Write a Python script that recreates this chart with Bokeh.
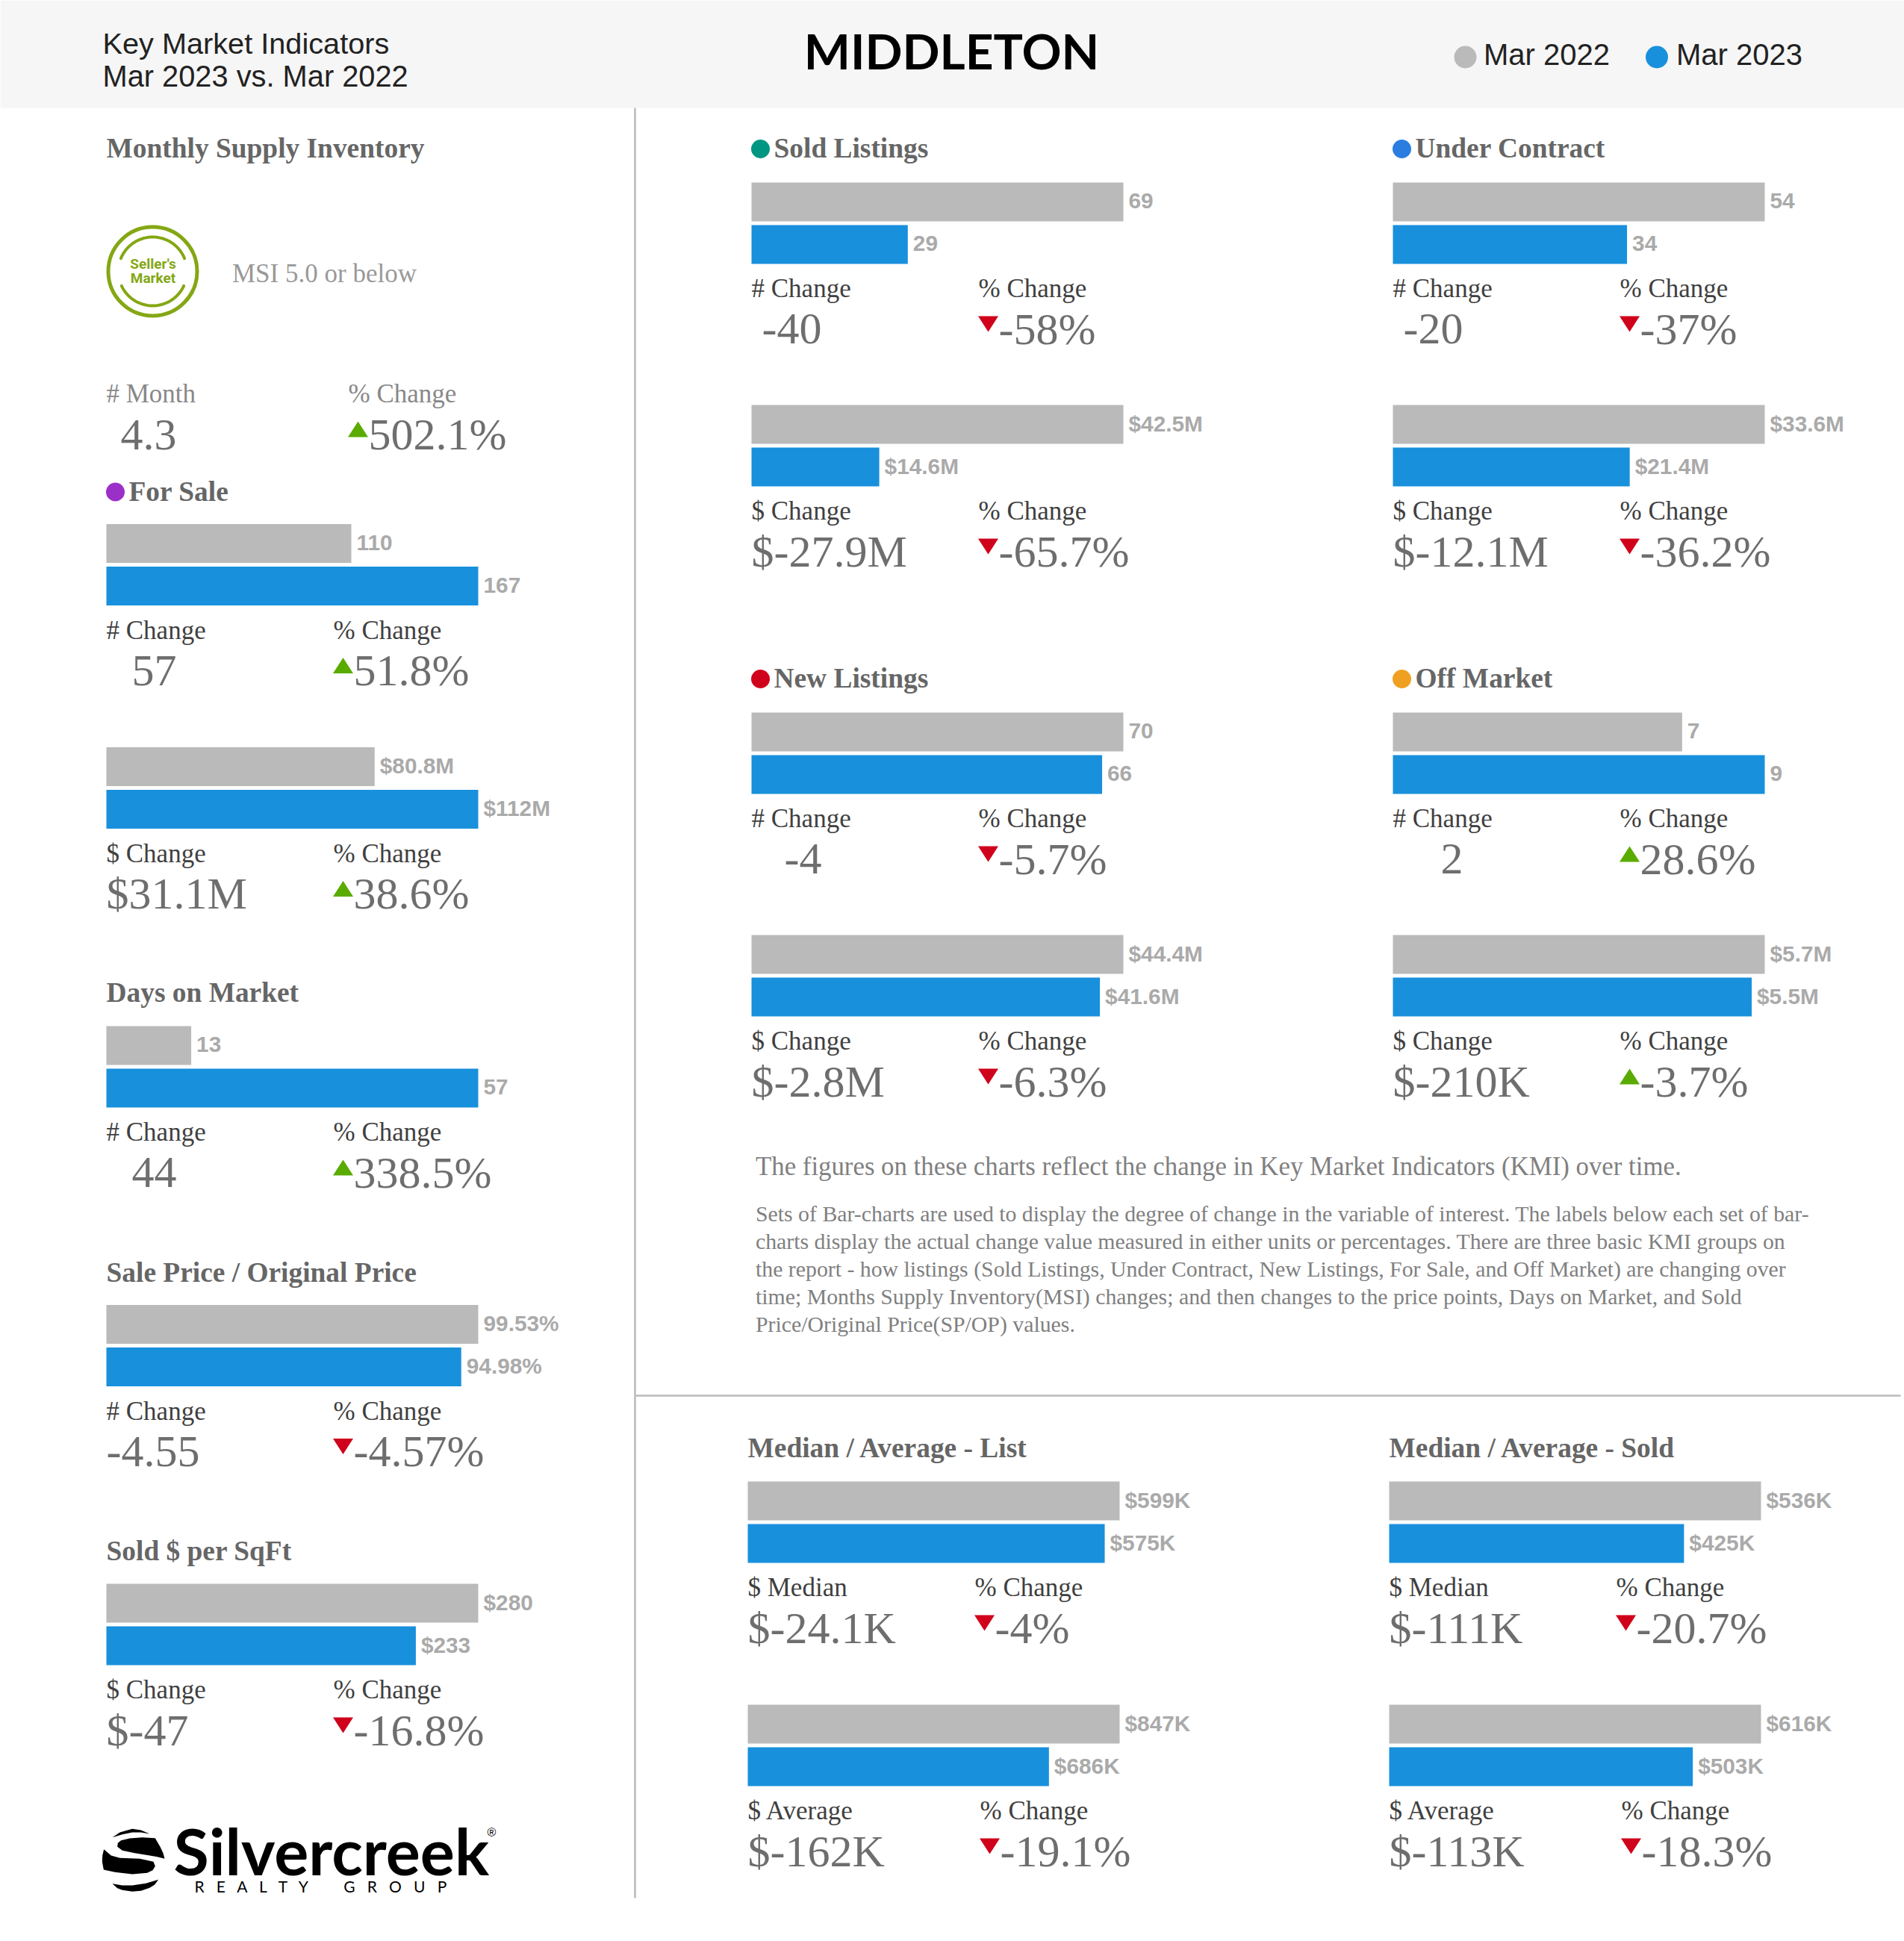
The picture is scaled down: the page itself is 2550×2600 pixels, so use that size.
import numpy as np
from bokeh.plotting import figure
from bokeh.models import Range1d
from bokeh.core.properties import value
from bokeh.embed import file_html
from bokeh.resources import INLINE

# ---------- data ----------
legend_labels = ["Mar 2022", "Mar 2023"]

sold_count = [69, 29];            sold_count_lbl = ["69", "29"]
sold_dollar = [42.5, 14.6];       sold_dollar_lbl = ["$42.5M", "$14.6M"]
contract_count = [54, 34];        contract_count_lbl = ["54", "34"]
contract_dollar = [33.6, 21.4];   contract_dollar_lbl = ["$33.6M", "$21.4M"]
new_count = [70, 66];             new_count_lbl = ["70", "66"]
new_dollar = [44.4, 41.6];        new_dollar_lbl = ["$44.4M", "$41.6M"]
off_count = [7, 9];               off_count_lbl = ["7", "9"]
off_dollar = [5.7, 5.5];          off_dollar_lbl = ["$5.7M", "$5.5M"]
sale_count = [110, 167];          sale_count_lbl = ["110", "167"]
sale_dollar = [80.8, 112];        sale_dollar_lbl = ["$80.8M", "$112M"]
dom = [13, 57];                   dom_lbl = ["13", "57"]
sp_op = [99.53, 94.98];           sp_op_lbl = ["99.53%", "94.98%"]
per_sqft = [280, 233];            per_sqft_lbl = ["$280", "$233"]
list_median = [599, 575];         list_median_lbl = ["$599K", "$575K"]
list_average = [847, 686];        list_average_lbl = ["$847K", "$686K"]
sold_median = [536, 425];         sold_median_lbl = ["$536K", "$425K"]
sold_average = [616, 503];        sold_average_lbl = ["$616K", "$503K"]

paragraph = [
    "Sets of Bar-charts are used to display the degree of change in the variable of interest. The labels below each set of bar-",
    "charts display the actual change value measured in either units or percentages. There are three basic KMI groups on",
    "the report - how listings (Sold Listings, Under Contract, New Listings, For Sale, and Off Market) are changing over",
    "time; Months Supply Inventory(MSI) changes; and then changes to the price points, Days on Market, and Sold",
    "Price/Original Price(SP/OP) values.",
]

# ---------- style ----------
W, H = 2550, 2600
BAR_W = 498
GREY, BLUE = "#bababa", "#1890dc"
SERIF, SANS = "Liberation Serif", "Liberation Sans"
C_TITLE, C_LBL, C_BIG, C_VAL = "#666666", "#404040", "#6e6e6e", "#aaaaaa"
UP, DOWN = "#5aab00", "#d0021b"
S_LBL, S_BIG, S_TITLE = 35, 60, 37.4

p = figure(width=W, height=H, output_backend="svg", toolbar_location=None,
           x_range=Range1d(0, W), y_range=Range1d(H, 0),
           x_axis_type=None, y_axis_type=None, min_border=0,
           outline_line_color=None, background_fill_color="white")
p.grid.visible = False


def txt(x, y, s, size, color, font=SERIF, style="normal", align="left"):
    # y is the wanted baseline; bokeh places "alphabetic" text somewhat lower
    p.text(x=[x], y=[y - (6 + 0.21 * size)], text=[s], text_font=value(font), text_font_size=value(f"{size}px"),
           text_font_style=style, text_color=color, text_align=align, text_baseline="alphabetic")


def tri(x, y, up):
    # x: left edge, y: top edge of a 27 x 21 px marker
    if up:
        p.patch([x, x + 27, x + 13.5], [y + 21, y + 21, y], color=UP, line_width=0)
    else:
        p.patch([x, x + 27, x + 13.5], [y, y, y + 21], color=DOWN, line_width=0)


def change(x, y, lbl, lbl_color, val, is_up):
    txt(x, y + 1.5, lbl, S_LBL, lbl_color)
    tri(x - 0.5, y + 25, is_up)
    txt(x + 27, y + 61, val, S_BIG, C_BIG)


range_id = [0]


def bars(x0, y0, vals, labels):
    name = f"r{range_id[0]}"
    range_id[0] += 1
    scale = max(vals) / BAR_W
    p.extra_x_ranges[name] = Range1d(-x0 * scale, (W - x0) * scale)
    ys = [y0 + 26, y0 + 26 + 57]
    p.hbar(y=ys, left=0, right=vals, height=52, color=[GREY, BLUE], line_width=0, x_range_name=name)
    p.text(x=vals, y=[v - 1.5 for v in ys], text=labels, x_offset=7, x_range_name=name,
           text_font=value(SANS), text_font_style="bold", text_font_size=value("29.8px"),
           text_color=C_VAL, text_align="left", text_baseline="middle")


def group(x0, y0, vals, labels, lbl1, val1, lbl2, val2, is_up, pct_dx=304, right_align=False):
    bars(x0, y0, vals, labels)
    txt(x0, y0 + 155.5, lbl1, S_LBL, C_LBL)
    if right_align:
        txt(x0 + 94, y0 + 215, val1, S_BIG, C_BIG, align="right")
    else:
        txt(x0, y0 + 215, val1, S_BIG, C_BIG)
    change(x0 + pct_dx, y0 + 154, lbl2, C_LBL, val2, is_up)


def title(x0, y, s, dot=None):
    if dot:
        p.scatter([x0 + 12], [y - 13], size=25, color=dot, line_width=0)
        txt(x0 + 30, y, s, S_TITLE, C_TITLE, style="bold")
    else:
        txt(x0, y, s, S_TITLE, C_TITLE, style="bold")


# ---------- header ----------
p.quad(left=[0], right=[W], top=[0], bottom=[144], color="#f6f6f6", line_width=0)
txt(137, 72, "Key Market Indicators", 39.7, "#222222", SANS)
txt(137, 116, "Mar 2023 vs. Mar 2022", 39.8, "#222222", SANS)
txt(1274, 87, "MIDDLETON", 65.8, "black", "Lato", "bold", "center")
p.scatter([1962, 2218.5], [76, 76], size=30, color=[GREY, BLUE], line_width=0)
txt(1986.5, 87, legend_labels[0], 40, "#222222", SANS)
txt(2244.5, 87, legend_labels[1], 40, "#222222", SANS)

# ---------- dividers ----------
p.segment([850], [144], [850], [2542], color=GREY, line_width=2.5)
p.segment([851], [1869], [2545], [1869], color=GREY, line_width=2.5)

# ---------- left column ----------
LX = 142
title(LX, 212, "Monthly Supply Inventory")
# seller's market badge
p.scatter([204], [363], size=119, marker="circle", fill_color=None, line_color="#84a714", line_width=5)
for a0, a1 in ((np.radians(202), np.radians(338)), (np.radians(25), np.radians(155))):
    t = np.linspace(a0, a1, 50)
    p.line(204 + 46 * np.cos(t), 363 + 46 * np.sin(t), color="#84a714", line_width=4, line_cap="round")
txt(204.5, 363, "Seller's", 19, "#84a714", "Roboto", "bold", "center")
txt(204.5, 382, "Market", 19, "#84a714", "Roboto", "bold", "center")
txt(310.5, 379, "MSI 5.0 or below", 35, "#999999")
txt(LX, 540, "# Month", S_LBL, "#888888")
txt(LX + 94, 601, "4.3", S_BIG, C_BIG, align="right")
change(466, 539, "% Change", "#888888", "502.1%", True)

title(LX, 671.5, "For Sale", "#9b30c8")
group(LX, 701.5, sale_count, sale_count_lbl, "# Change", "57", "% Change", "51.8%", True, right_align=True)
group(LX, 1000.5, sale_dollar, sale_dollar_lbl, "$ Change", "$31.1M", "% Change", "38.6%", True)
title(LX, 1343, "Days on Market")
group(LX, 1374, dom, dom_lbl, "# Change", "44", "% Change", "338.5%", True, right_align=True)
title(LX, 1717.5, "Sale Price / Original Price")
group(LX, 1747.5, sp_op, sp_op_lbl, "# Change", "-4.55", "% Change", "-4.57%", False)
title(LX, 2090.5, "Sold $ per SqFt")
group(LX, 2121, per_sqft, per_sqft_lbl, "$ Change", "$-47", "% Change", "-16.8%", False)

# silvercreek logo (sphere drawn in page pixels)
def logo_shape(pts):
    xs, ys = zip(*pts)
    p.patch([120 + a / 3 for a in xs], [2430 + b / 3 for b in ys], color="black", line_width=0)

logo_shape([(90, 92), (120, 72), (170, 58), (205, 63), (240, 78), (205, 72), (170, 72), (130, 80)])
logo_shape([(110, 130), (112, 115), (125, 104), (160, 96), (210, 92), (262, 95), (282, 130), (294, 155), (300, 178),
            (270, 170), (240, 165), (180, 155), (130, 145)])
logo_shape([(56, 140), (50, 165), (49, 190), (55, 222), (100, 232), (170, 240), (230, 235), (252, 224), (262, 208),
            (255, 190), (200, 178), (120, 175), (85, 165)])
logo_shape([(90, 278), (130, 285), (170, 285), (225, 277), (275, 262), (260, 282), (240, 295), (205, 307), (170, 310),
            (130, 304), (110, 296)])
txt(232, 2502, "Silvercreek", 86.3, "black", "Lato", "bold")
txt(652, 2463, "®", 16, "black", SANS)
NB = "\u00a0"
spaced = lambda w: (NB * 3).join(w)
txt(260, 2536, spaced("REALTY") + NB * 9 + spaced("GROUP"), 21, "black", "Lato")

# ---------- centre / right panels ----------
MX, RX = 1006, 1865
title(MX, 212, "Sold Listings", "#009682")
group(MX, 244, sold_count, sold_count_lbl, "# Change", "-40", "% Change", "-58%", False, right_align=True)
group(MX, 542, sold_dollar, sold_dollar_lbl, "$ Change", "$-27.9M", "% Change", "-65.7%", False)
title(RX, 212, "Under Contract", "#2b7de0")
group(RX, 244, contract_count, contract_count_lbl, "# Change", "-20", "% Change", "-37%", False, right_align=True)
group(RX, 542, contract_dollar, contract_dollar_lbl, "$ Change", "$-12.1M", "% Change", "-36.2%", False)
title(MX, 922, "New Listings", "#d0021b")
group(MX, 954, new_count, new_count_lbl, "# Change", "-4", "% Change", "-5.7%", False, right_align=True)
group(MX, 1252, new_dollar, new_dollar_lbl, "$ Change", "$-2.8M", "% Change", "-6.3%", False)
title(RX, 922, "Off Market", "#f0a020")
group(RX, 954, off_count, off_count_lbl, "# Change", "2", "% Change", "28.6%", True, right_align=True)
group(RX, 1252, off_dollar, off_dollar_lbl, "$ Change", "$-210K", "% Change", "-3.7%", True)

# ---------- explanatory text ----------
txt(1011.5, 1575.5, "The figures on these charts reflect the change in Key Market Indicators (KMI) over time.", 34.8, "#808080")
for i, line in enumerate(paragraph):
    txt(1011.5, 1637.5 + i * 37, line, 29.8, "#808080")

# ---------- bottom panels ----------
BX, CX = 1001, 1860
title(BX, 1953, "Median / Average - List")
group(BX, 1984, list_median, list_median_lbl, "$ Median", "$-24.1K", "% Change", "-4%", False)
group(BX, 2283, list_average, list_average_lbl, "$ Average", "$-162K", "% Change", "-19.1%", False, pct_dx=311)
title(CX, 1953, "Median / Average - Sold")
group(CX, 1984, sold_median, sold_median_lbl, "$ Median", "$-111K", "% Change", "-20.7%", False)
group(CX, 2283, sold_average, sold_average_lbl, "$ Average", "$-113K", "% Change", "-18.3%", False, pct_dx=311)

open("out.html", "w").write(file_html(p, INLINE))
